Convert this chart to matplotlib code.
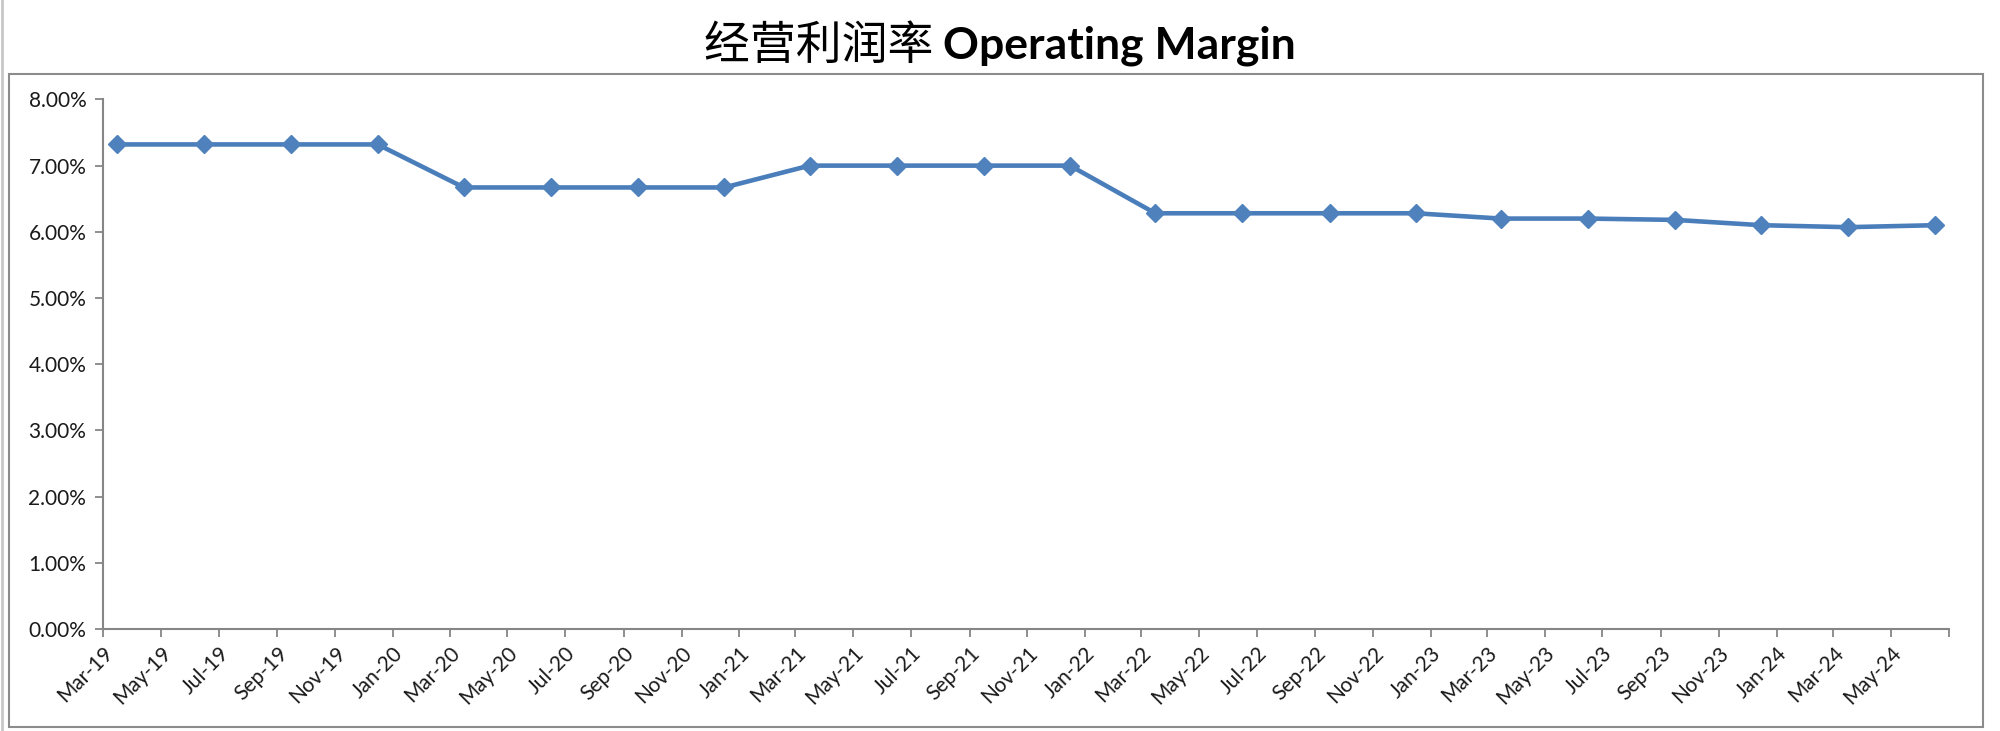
# operating margin line chart, quarterly points on a monthly date axis
import matplotlib
matplotlib.use('Agg')
import matplotlib.pyplot as plt
import matplotlib.ticker as mticker
import pandas as pd
from matplotlib.patches import Rectangle

# quarter-end months and operating margin (%)
quarters = ['2019-03', '2019-06', '2019-09', '2019-12',
            '2020-03', '2020-06', '2020-09', '2020-12',
            '2021-03', '2021-06', '2021-09', '2021-12',
            '2022-03', '2022-06', '2022-09', '2022-12',
            '2023-03', '2023-06', '2023-09', '2023-12',
            '2024-03', '2024-06']
margin = [7.32, 7.32, 7.32, 7.32,
          6.67, 6.67, 6.67, 6.67,
          7.00, 7.00, 7.00, 7.00,
          6.28, 6.28, 6.28, 6.28,
          6.20, 6.20, 6.18, 6.10,
          6.07, 6.10]
yticks = [0, 1, 2, 3, 4, 5, 6, 7, 8]
axis_start = '2019-03-01'
axis_end = '2024-07-01'
title_cn = '经营利润率'
title_en = 'Operating Margin'

plt.rcParams['font.family'] = ['Lato', 'Noto Sans CJK SC', 'DejaVu Sans']

fig = plt.figure(figsize=(20, 7.31), dpi=100)
fig.patch.set_facecolor('white')

# chart area frame like excel
fig.patches.append(Rectangle((0.0045, 0.0055), 0.987, 0.893, transform=fig.transFigure,
                             fill=False, edgecolor='#8c8c8c', linewidth=1.5))
fig.add_artist(plt.Line2D([0.0012, 0.0012], [0, 1], transform=fig.transFigure,
                          color='#c8c8c8', linewidth=2))

ax = fig.add_axes([0.0515, 0.1395, 0.923, 0.7245])

# points sit in the middle of their month (excel "between tick marks")
dates = pd.to_datetime(quarters) + pd.Timedelta(days=15)
ax.plot(dates, margin, color='#4A7EBB', linewidth=3.3, marker='D',
        markersize=9.5, markerfacecolor='#4F81BD', markeredgecolor='#4F81BD',
        solid_joinstyle='round')

ax.set_ylim(0, 8)
ax.set_yticks(yticks)
ax.yaxis.set_major_formatter(mticker.FuncFormatter(lambda v, p: f'{v:.2f}%'))

tick_dates = pd.date_range(axis_start, axis_end, freq='2MS')
tick_labels = [d.strftime('%b-%y') for d in tick_dates]
tick_labels[-1] = ''
ax.set_xlim(pd.Timestamp(axis_start), pd.Timestamp(axis_end))
ax.set_xticks(tick_dates)
ax.set_xticklabels(tick_labels, rotation=45, ha='right', rotation_mode='anchor')

for side in ['top', 'right']:
    ax.spines[side].set_visible(False)
for side in ['left', 'bottom']:
    ax.spines[side].set_color('#868686')
    ax.spines[side].set_linewidth(1.5)
ax.tick_params(axis='both', direction='out', length=6, width=1.3, color='#868686',
               labelcolor='#1a1a1a')
ax.tick_params(axis='y', labelsize=15, pad=6)
ax.tick_params(axis='x', labelsize=15, pad=4)

# title: chinese part regular, english part bold, centred together
renderer = fig.canvas.get_renderer()
t_cn = fig.text(0, 0.938, title_cn + ' ', ha='left', va='center', fontsize=33,
                family=['Noto Sans CJK SC'], color='black')
t_en = fig.text(0, 0.938, title_en, ha='left', va='center', fontsize=32,
                fontweight='bold', color='black')
w_cn = t_cn.get_window_extent(renderer).width / fig.bbox.width
w_en = t_en.get_window_extent(renderer).width / fig.bbox.width
x0 = 0.5 - (w_cn + w_en) / 2
t_cn.set_x(x0)
t_en.set_x(x0 + w_cn)

fig.savefig('out.png', dpi=100, facecolor='white')
